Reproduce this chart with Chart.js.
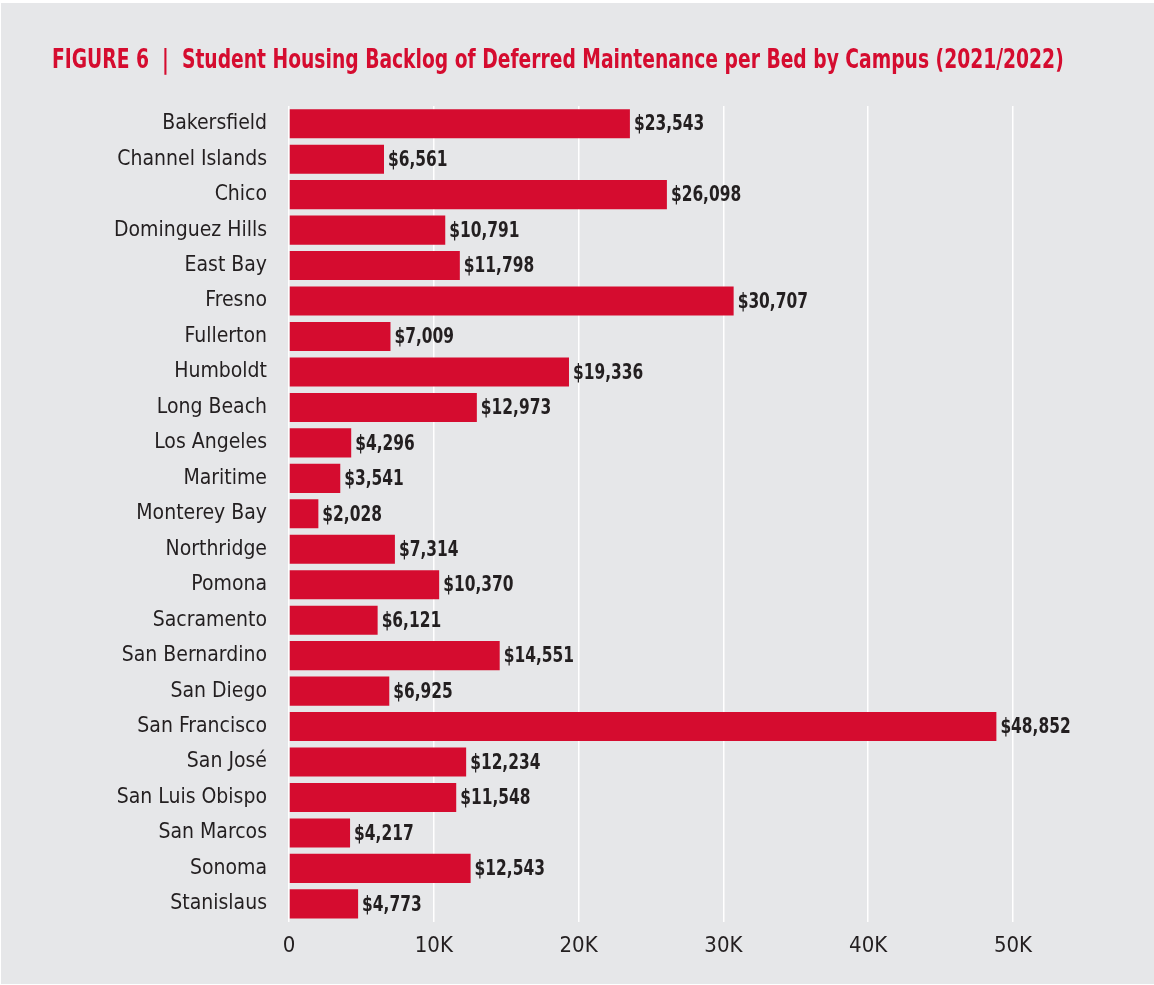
<!DOCTYPE html>
<html lang="en">
<head>
    <meta charset="UTF-8">
    <title>Student Housing Backlog of Deferred Maintenance per Bed</title>
    <script src="https://cdn.jsdelivr.net/npm/chart.js"></script>
    <style>
        body {
            margin: 0;
            background-color: #ffffff;
        }
        #wrap {
            position: absolute;
            top: 3px;
            left: 1px;
            width: 1153px;
            height: 981px;
            background-color: #e6e7e9;
        }
    </style>
</head>
<body>
    <div id="wrap">
        <canvas id="myChart" width="1153" height="981"></canvas>
    </div>

    <script>
        const titleText = 'FIGURE 6  |  Student Housing Backlog of Deferred Maintenance per Bed by Campus (2021/2022)';

        const campuses = [
            'Bakersfield', 'Channel Islands', 'Chico', 'Dominguez Hills', 'East Bay',
            'Fresno', 'Fullerton', 'Humboldt', 'Long Beach', 'Los Angeles',
            'Maritime', 'Monterey Bay', 'Northridge', 'Pomona', 'Sacramento',
            'San Bernardino', 'San Diego', 'San Francisco', 'San José', 'San Luis Obispo',
            'San Marcos', 'Sonoma', 'Stanislaus'
        ];

        const backlogPerBed = [
            23543, 6561, 26098, 10791, 11798,
            30707, 7009, 19336, 12973, 4296,
            3541, 2028, 7314, 10370, 6121,
            14551, 6925, 48852, 12234, 11548,
            4217, 12543, 4773
        ];

        const tickLabels = ['0', '10K', '20K', '30K', '40K', '50K'];

        const fontFamily = '"DejaVu Sans Condensed", "DejaVu Sans", sans-serif';
        const red = '#d50c2f';
        const ink = '#231f20';

        // title drawn by hand (squeezed sideways to look like a condensed face)
        const figureTitle = {
            id: 'figureTitle',
            afterDraw(chart) {
                const ctx = chart.ctx;
                ctx.save();
                ctx.font = 'bold 26px ' + fontFamily;
                ctx.fillStyle = red;
                ctx.textAlign = 'left';
                ctx.textBaseline = 'middle';
                ctx.translate(51, 58);
                ctx.scale(0.8, 1);
                ctx.fillText(titleText, 0, 0);
                ctx.restore();
            }
        };

        // value labels at the end of each bar
        const barLabels = {
            id: 'barLabels',
            afterDatasetsDraw(chart) {
                const ctx = chart.ctx;
                const meta = chart.getDatasetMeta(0);
                ctx.save();
                ctx.font = 'bold 22px ' + fontFamily;
                ctx.fillStyle = ink;
                ctx.textAlign = 'left';
                ctx.textBaseline = 'middle';
                meta.data.forEach((bar, i) => {
                    const text = '$' + backlogPerBed[i].toLocaleString('en-US');
                    ctx.save();
                    ctx.translate(bar.x + 4, bar.y + 1);
                    ctx.scale(0.78, 1);
                    ctx.fillText(text, 0, 0);
                    ctx.restore();
                });
                ctx.restore();
            }
        };

        const config = {
            type: 'bar',
            data: {
                labels: campuses,
                datasets: [{
                    data: backlogPerBed,
                    backgroundColor: red,
                    borderWidth: 0,
                    barPercentage: 0.82,
                    categoryPercentage: 1
                }]
            },
            options: {
                indexAxis: 'y',
                responsive: false,
                animation: false,
                layout: {
                    padding: { top: 103, left: 0, right: 141, bottom: 14 }
                },
                plugins: {
                    legend: { display: false },
                    tooltip: { enabled: false }
                },
                scales: {
                    x: {
                        min: 0,
                        max: 50000,
                        ticks: {
                            stepSize: 10000,
                            padding: 11,
                            color: ink,
                            font: { family: fontFamily, size: 22 },
                            callback: (value, index) => tickLabels[index]
                        },
                        grid: {
                            color: '#ffffff',
                            lineWidth: 1.5,
                            drawTicks: false
                        },
                        border: { display: false }
                    },
                    y: {
                        afterFit: (scale) => { scale.width = 288; },
                        ticks: {
                            padding: 22,
                            color: ink,
                            font: { family: fontFamily, size: 21 }
                        },
                        grid: { display: false, drawTicks: false },
                        border: { display: false }
                    }
                }
            },
            plugins: [figureTitle, barLabels]
        };

        var myChart = new Chart(document.getElementById('myChart'), config);
    </script>
</body>
</html>
